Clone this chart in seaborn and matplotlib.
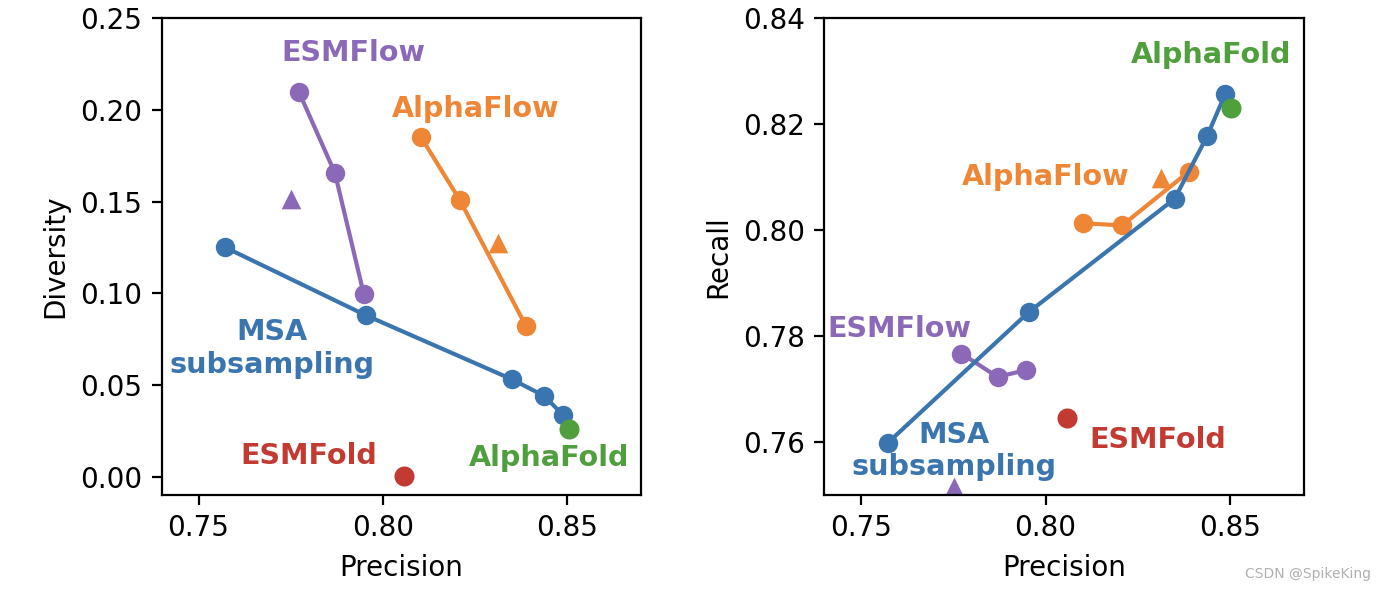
import matplotlib
matplotlib.use('Agg')
import matplotlib.pyplot as plt
from matplotlib.ticker import MultipleLocator
import seaborn as sns

# values
msa_prec = [0.7573, 0.7954, 0.8350, 0.8438, 0.8488]
msa_div = [0.1250, 0.0880, 0.0531, 0.0440, 0.0337]
msa_rec = [0.7599, 0.7845, 0.8059, 0.8177, 0.8258]

esmflow_prec = [0.7772, 0.7870, 0.7948]
esmflow_div = [0.2100, 0.1656, 0.0998]
esmflow_rec = [0.7767, 0.7723, 0.7736]

alphaflow_prec = [0.8103, 0.8208, 0.8388]
alphaflow_div = [0.1853, 0.1511, 0.0822]
alphaflow_rec = [0.8013, 0.8009, 0.8110]

# triangle markers
esmflow_tri_prec = [0.7752]
esmflow_tri_div = [0.1515]
esmflow_tri_rec = [0.7516]
alphaflow_tri_prec = [0.8312]
alphaflow_tri_div = [0.1272]
alphaflow_tri_rec = [0.8099]

alphafold_prec = [0.8504]
alphafold_div = [0.0260]
alphafold_rec = [0.8231]

esmfold_prec = [0.8058]
esmfold_div = [0.0003]
esmfold_rec = [0.7645]

# label positions (precision, value) per panel
labels_div = {
    'ESMFlow': (0.7921, 0.2310),
    'AlphaFlow': (0.8251, 0.2005),
    'MSA\nsubsampling': (0.7699, 0.0700),
    'ESMFold': (0.7800, 0.0115),
    'AlphaFold': (0.8451, 0.0101),
}
labels_rec = {
    'AlphaFold': (0.8448, 0.8331),
    'AlphaFlow': (0.8000, 0.8100),
    'ESMFlow': (0.7603, 0.7813),
    'MSA\nsubsampling': (0.7752, 0.7583),
    'ESMFold': (0.8305, 0.7603),
}

c_msa = '#3a75b0'
c_alphaflow = '#ef8636'
c_alphafold = '#4f9f3d'
c_esmfold = '#c33a32'
c_esmflow = '#8c69b8'
label_colors = {
    'ESMFlow': c_esmflow, 'AlphaFlow': c_alphaflow, 'MSA\nsubsampling': c_msa,
    'ESMFold': c_esmfold, 'AlphaFold': c_alphafold,
}

fig = plt.figure(figsize=(6.92, 2.95), dpi=200)
ax1 = fig.add_axes([0.1168, 0.161, 0.3463, 0.808])
ax2 = fig.add_axes([0.5956, 0.161, 0.3463, 0.808])

line_kw = dict(marker='o', markersize=7, markeredgewidth=0, linewidth=1.5, sort=False, legend=False)
dot_kw = dict(s=52, linewidth=0, legend=False)
tri_kw = dict(s=50, marker='^', linewidth=0, legend=False)


def draw_panel(ax, yflow_a, yflow_e, ymsa, ytri_a, ytri_e, yaf, yef, labels):
    sns.lineplot(x=alphaflow_prec, y=yflow_a, color=c_alphaflow, ax=ax, **line_kw)
    sns.lineplot(x=esmflow_prec, y=yflow_e, color=c_esmflow, ax=ax, **line_kw)
    sns.lineplot(x=msa_prec, y=ymsa, color=c_msa, ax=ax, **line_kw)
    sns.scatterplot(x=alphaflow_tri_prec, y=ytri_a, color=c_alphaflow, ax=ax, **tri_kw)
    sns.scatterplot(x=esmflow_tri_prec, y=ytri_e, color=c_esmflow, ax=ax, **tri_kw)
    sns.scatterplot(x=alphafold_prec, y=yaf, color=c_alphafold, ax=ax, zorder=3, **dot_kw)
    sns.scatterplot(x=esmfold_prec, y=yef, color=c_esmfold, ax=ax, zorder=3, **dot_kw)
    for name, (x, y) in labels.items():
        ax.text(x, y, name, color=label_colors[name], fontsize=10.3, fontweight='bold',
                ha='center', va='center', multialignment='center')
    ax.set_xlim(0.74, 0.87)
    ax.xaxis.set_major_locator(MultipleLocator(0.05))
    ax.set_xlabel('Precision', fontsize=10)


draw_panel(ax1, alphaflow_div, esmflow_div, msa_div, alphaflow_tri_div, esmflow_tri_div,
           alphafold_div, esmfold_div, labels_div)
ax1.set_ylim(-0.01, 0.25)
ax1.yaxis.set_major_locator(MultipleLocator(0.05))
ax1.set_ylabel('Diversity', fontsize=10)

draw_panel(ax2, alphaflow_rec, esmflow_rec, msa_rec, alphaflow_tri_rec, esmflow_tri_rec,
           alphafold_rec, esmfold_rec, labels_rec)
ax2.set_ylim(0.75, 0.84)
ax2.yaxis.set_major_locator(MultipleLocator(0.02))
ax2.set_ylabel('Recall', fontsize=10)

fig.text(0.9905, 0.027, 'CSDN @SpikeKing', fontsize=5, color='#b0b0b0', ha='right', va='center')

fig.savefig('out.png', dpi=200)
